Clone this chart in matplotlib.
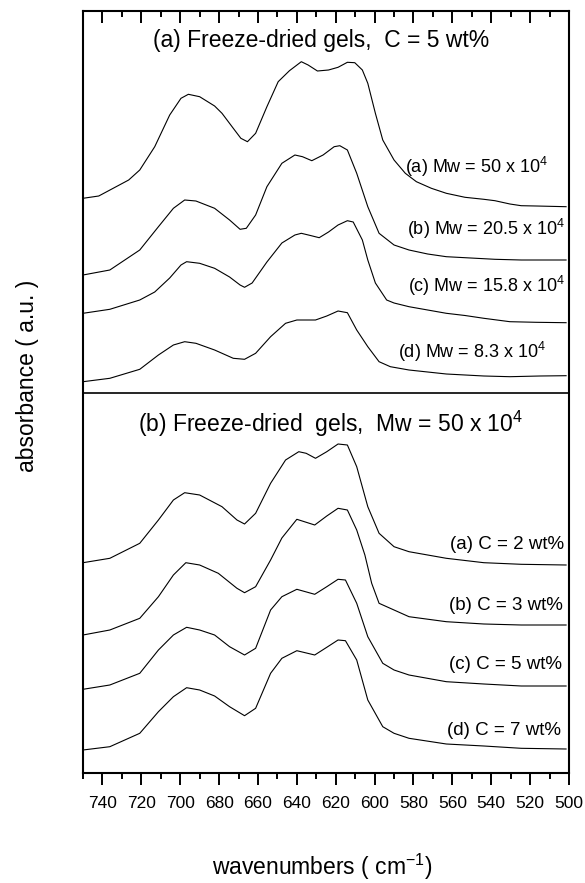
import matplotlib
matplotlib.use("Agg")
import matplotlib.pyplot as plt
from matplotlib.ticker import MultipleLocator

plt.rcParams['font.family'] = ['Liberation Sans', 'DejaVu Sans']
plt.rcParams['mathtext.fontset'] = 'custom'
plt.rcParams['mathtext.rm'] = 'Liberation Sans'
plt.rcParams['mathtext.it'] = 'Liberation Sans'

# ---------------- data (wavenumber, absorbance a.u.) ----------------
wn_a1 = [750, 741.9, 726.5, 720.8, 713.1, 705.4, 699.6, 695.8, 690, 682.3, 678.5, 672.7, 668.8, 665.4,
         661.2, 655.4, 649.6, 643.8, 637.7, 634.2, 629.4, 623.7, 618.8, 614, 610.2, 606.3, 603.5, 599.6,
         595.8, 590, 584.2, 578.5, 570.8, 563.1, 553.5, 543.8, 538.1, 530.4, 524.6, 516.9, 501.5]
abs_a1 = [0.084, 0.107, 0.267, 0.367, 0.600, 0.917, 1.084, 1.124, 1.100, 1.007, 0.934, 0.784, 0.684, 0.650,
          0.734, 1.000, 1.250, 1.360, 1.450, 1.417, 1.357, 1.367, 1.394, 1.444, 1.440, 1.367, 1.234, 0.934,
          0.667, 0.467, 0.334, 0.250, 0.184, 0.134, 0.094, 0.074, 0.060, 0.027, 0.010, 0.007, 0.0]

wn_a2 = [750, 736.2, 720.8, 711.2, 703.5, 697.7, 691.9, 682.3, 674.6, 669.2, 666, 661.2, 655.4, 647.7,
         641, 637.1, 632.3, 626.5, 620.8, 617.9, 614, 609.2, 603.5, 597.7, 590, 582.3, 572.7, 563.1,
         547.7, 538.1, 524.6, 501.5]
abs_a2 = [0.0, 0.05, 0.25, 0.483, 0.667, 0.75, 0.74, 0.667, 0.55, 0.457, 0.467, 0.60, 0.883, 1.117,
          1.20, 1.183, 1.143, 1.20, 1.283, 1.293, 1.25, 1.017, 0.683, 0.417, 0.30, 0.25, 0.21, 0.183,
          0.167, 0.157, 0.15, 0.15]

wn_a3 = [750, 736.2, 720.8, 713.1, 705.4, 699.6, 696.7, 690, 682.3, 674.6, 669.2, 666.9, 663, 655.4,
         647.7, 641, 637.7, 633, 628.5, 623.7, 618.8, 614, 611, 606.3, 603.5, 599.6, 593.8, 590, 582.3,
         572.7, 563.1, 553.5, 543.8, 530.4, 516.9, 501.5]
abs_a3 = [0.094, 0.134, 0.227, 0.307, 0.447, 0.577, 0.61, 0.594, 0.544, 0.457, 0.377, 0.354, 0.397, 0.607,
          0.797, 0.877, 0.894, 0.872, 0.85, 0.907, 0.977, 1.02, 1.007, 0.827, 0.627, 0.397, 0.227, 0.197,
          0.16, 0.127, 0.094, 0.072, 0.044, 0.01, 0.004, 0.0]

wn_a4 = [750, 736.2, 720.8, 711.2, 703.5, 697.7, 691.9, 682.3, 672.7, 666.9, 661.2, 653.5, 645.8, 640,
         630.4, 624.6, 618.8, 614, 609.2, 603.5, 597.7, 591.9, 582.3, 563.1, 543.8, 530.4, 515, 501.5]
abs_a4 = [0.0, 0.034, 0.124, 0.267, 0.367, 0.40, 0.384, 0.317, 0.234, 0.224, 0.284, 0.45, 0.584, 0.617,
          0.617, 0.657, 0.707, 0.69, 0.517, 0.35, 0.20, 0.15, 0.117, 0.077, 0.057, 0.05, 0.057, 0.06]

wn_b1 = [750, 736.2, 720.8, 711.2, 703.5, 697.7, 690, 678.5, 670.8, 666.9, 661.2, 653.5, 645.8, 639,
         635.2, 630.4, 624.6, 618.8, 614, 609.2, 603.5, 597.7, 590, 582.3, 563.1, 543.8, 524.6, 501.5]
abs_b1 = [0.023, 0.067, 0.217, 0.45, 0.65, 0.723, 0.70, 0.583, 0.45, 0.41, 0.517, 0.817, 1.05, 1.133,
          1.117, 1.067, 1.133, 1.21, 1.20, 0.983, 0.583, 0.317, 0.183, 0.133, 0.067, 0.023, 0.007, 0.0]

wn_b2 = [750, 736.2, 720.8, 711.2, 703.5, 697.1, 690, 680.4, 670.8, 666.9, 661.2, 653.5, 647.7, 640,
         630.8, 624.6, 618.8, 614, 609.2, 605, 601.5, 597.7, 590, 582.3, 563.1, 543.8, 524.6, 501.5]
abs_b2 = [0.0, 0.05, 0.167, 0.383, 0.60, 0.723, 0.70, 0.617, 0.467, 0.423, 0.483, 0.75, 0.97, 1.157,
          1.10, 1.19, 1.267, 1.25, 1.05, 0.80, 0.517, 0.317, 0.25, 0.183, 0.133, 0.11, 0.10, 0.10]

wn_b3 = [750, 736.2, 720.8, 711.2, 703.5, 696.7, 690, 682.3, 674.6, 666.9, 661.2, 653.5, 647.7, 640,
         630.8, 624.6, 618.8, 615, 609.2, 603.5, 595.8, 590, 582.3, 563.1, 543.8, 524.6, 501.5]
abs_b3 = [0.0, 0.043, 0.16, 0.393, 0.543, 0.62, 0.593, 0.543, 0.426, 0.343, 0.41, 0.793, 0.926, 1.00,
          0.95, 1.026, 1.10, 1.093, 0.86, 0.526, 0.26, 0.193, 0.143, 0.076, 0.053, 0.033, 0.033]

wn_b4 = [750, 736.2, 720.8, 711.2, 703.5, 696.7, 690, 682.3, 674.6, 666.9, 661.2, 653.5, 647.7, 640,
         630.8, 624.6, 618.8, 615, 609.2, 603.5, 595.8, 590, 582.3, 563.1, 543.8, 524.6, 501.5]
abs_b4 = [0.0, 0.033, 0.167, 0.383, 0.533, 0.623, 0.60, 0.54, 0.433, 0.343, 0.417, 0.767, 0.917, 0.993,
          0.95, 1.027, 1.10, 1.093, 0.90, 0.50, 0.233, 0.167, 0.117, 0.06, 0.04, 0.017, 0.01]

labels_a = [r"(a) Mw = 50 x 10$^4$", r"(b) Mw = 20.5 x 10$^4$",
            r"(c) Mw = 15.8 x 10$^4$", r"(d) Mw = 8.3 x 10$^4$"]
labels_b = ["(a) C = 2 wt%", "(b) C = 3 wt%", "(c) C = 5 wt%", "(d) C = 7 wt%"]
title_a = "(a) Freeze-dried gels,  C = 5 wt%"
title_b = r"(b) Freeze-dried  gels,  Mw = 50 x 10$^4$"
xticks = [740, 720, 700, 680, 660, 640, 620, 600, 580, 560, 540, 520, 500]

# ---------------- layout ----------------
series = [(wn_a1, abs_a1), (wn_a2, abs_a2), (wn_a3, abs_a3), (wn_a4, abs_a4),
          (wn_b1, abs_b1), (wn_b2, abs_b2), (wn_b3, abs_b3), (wn_b4, abs_b4)]
offsets = [5.663, 4.98, 4.503, 3.913, 2.08, 1.38, 0.837, 0.23]
label_pos = [(510.6, 5.997), (502.1, 5.38), (502.1, 4.813), (511.5, 4.147),
             (502.6, 2.243), (503.1, 1.627), (503.6, 1.043), (504.1, 0.377)]
label_sizes = [13, 13, 13, 13, 13.5, 13.5, 13.5, 13.5]

fig = plt.figure(figsize=(5.85, 8.83), dpi=100)
ax = fig.add_axes([83/585, 110/883, 486/585, 762/883])

for (x, y), off in zip(series, offsets):
    ax.plot(x, [v + off for v in y], color='black', lw=0.8)

for txt, (lx, ly), fs in zip(labels_a + labels_b, label_pos, label_sizes):
    ax.text(lx, ly, txt, ha='right', va='baseline', fontsize=fs)

ax.axhline(3.80, color='black', lw=1.2)
ax.text(627.5, 7.26, title_a, ha='center', va='baseline', fontsize=16.5)
ax.text(622.8, 3.413, title_b, ha='center', va='baseline', fontsize=16.5)

ax.set_xlim(750, 500)
ax.set_ylim(0, 7.62)
ax.set_xticks(xticks)
ax.xaxis.set_minor_locator(MultipleLocator(10))
ax.set_yticks([])
ax.tick_params(axis='x', which='both', bottom=True, top=True, labelsize=12.5, width=1.4, pad=8)
ax.tick_params(axis='x', which='major', length=8.6)
ax.tick_params(axis='x', which='minor', length=4.6)
# top ticks point inward, bottom ticks outward
for t in ax.xaxis.get_major_ticks() + ax.xaxis.get_minor_ticks():
    t.tick2line.set_marker(3)  # TICKDOWN
for s in ax.spines.values():
    s.set_linewidth(1.5)

ax.set_xlabel(r"wavenumbers ( cm$^{-1}$)", fontsize=16.5)
ax.xaxis.set_label_coords(0.493, -0.104)
ax.set_ylabel("absorbance ( a.u. )", fontsize=16.5)
ax.yaxis.set_label_coords(-0.115, 0.521)
ax.yaxis.label.set_va('center')
ax.xaxis.label.set_va('top')

fig.savefig("out.png", dpi=100)
